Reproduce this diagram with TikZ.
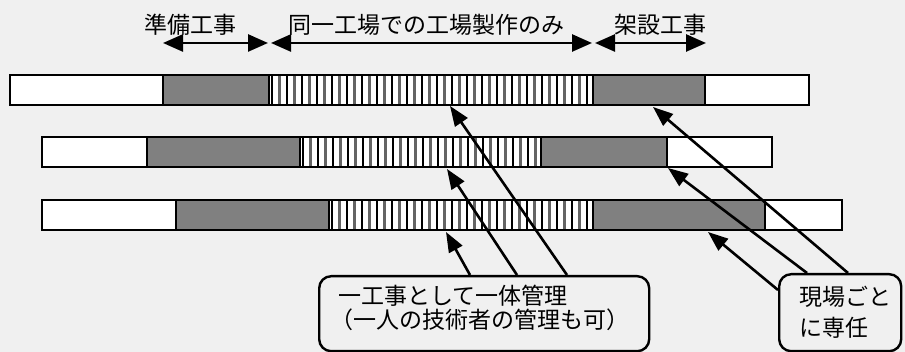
\documentclass[tikz,border=0pt]{standalone}
\usepackage{fontspec}
\newfontfamily\jp{Noto Sans CJK JP}
\usetikzlibrary{arrows.meta}
\definecolor{bargray}{RGB}{128,128,128}
\definecolor{hatchgray}{RGB}{100,100,100}
\definecolor{bgcol}{RGB}{240,240,240}
\begin{document}
\begin{tikzpicture}[x=1pt,y=-1pt,
  seg/.style={draw=black, line width=2.6pt, minimum height=30pt, inner sep=0pt, outer sep=0pt, anchor=north west},
  gseg/.style={seg, fill=bargray},
  wseg/.style={seg, fill=white},
  hseg/.style={seg, fill=white, path picture={
     \foreach \i in {0,...,22}{
       \draw[black, line width=1.8pt] ([xshift=15*\i pt+3pt]path picture bounding box.north west) -- ([xshift=15*\i pt+3pt]path picture bounding box.south west);
       \draw[hatchgray, line width=2.2pt] ([xshift=15*\i pt+10.5pt]path picture bounding box.north west) -- ([xshift=15*\i pt+10.5pt]path picture bounding box.south west);
     }}},
  lbl/.style={font=\jp\fontsize{23}{26}\selectfont, inner sep=0pt},
  dim/.style={line width=2.6pt, {Triangle[length=20pt,width=17pt]}-{Triangle[length=20pt,width=17pt]}},
  ptr/.style={line width=2.6pt, -{Triangle[length=20pt,width=15pt]}},
  callout/.style={draw, line width=2.4pt, rounded corners=12pt, inner sep=0pt, anchor=north west}]
\fill[bgcol] (0,0) rectangle (905,352);
\useasboundingbox (0,0) rectangle (905,352);

% top labels and span arrows
\node[lbl] (l1) at (190,25) {準備工事};
\node[lbl] (l2) at (426,25) {同一工場での工場製作のみ};
\node[lbl] (l3) at (660,25) {架設工事};
\coordinate (a0) at (163,43);
\coordinate (a1) at (268,43);
\coordinate (a2) at (271,43);
\coordinate (a3) at (592,43);
\coordinate (a4) at (595,43);
\coordinate (a5) at (706,43);
\draw[dim] (a0) -- (a1);
\draw[dim] (a2) -- (a3);
\draw[dim] (a4) -- (a5);

% bar 1
\node[wseg, minimum width=153pt] (b1a) at (10,75) {};
\node[gseg, minimum width=106pt] (b1b) at (163,75) {};
\node[hseg, minimum width=324pt] (b1c) at (269,75) {};
\node[gseg, minimum width=112pt] (b1d) at (593,75) {};
\node[wseg, minimum width=104pt] (b1e) at (705,75) {};
% bar 2
\node[wseg, minimum width=105pt] (b2a) at (42,137) {};
\node[gseg, minimum width=153pt] (b2b) at (147,137) {};
\node[hseg, minimum width=241pt] (b2c) at (300,137) {};
\node[gseg, minimum width=126pt] (b2d) at (541,137) {};
\node[wseg, minimum width=105pt] (b2e) at (667,137) {};
% bar 3
\node[wseg, minimum width=134pt] (b3a) at (42,200) {};
\node[gseg, minimum width=153pt] (b3b) at (176,200) {};
\node[hseg, minimum width=264pt] (b3c) at (329,200) {};
\node[gseg, minimum width=172pt] (b3d) at (593,200) {};
\node[wseg, minimum width=77pt] (b3e) at (765,200) {};

% callout boxes
\node[callout, minimum width=330pt, minimum height=75pt] (c1) at (318,275) {};
\node[lbl, anchor=west] (c1t1) at (338,296) {一工事として一体管理};
\node[lbl, anchor=west] (c1t2) at (330,320) {（一人の技術者の管理も可）};
\node[callout, minimum width=122pt, minimum height=77pt] (c2) at (778,273) {};
\node[lbl, anchor=west] (c2t1) at (799,297) {現場ごと};
\node[lbl, anchor=west] (c2t2) at (799,328) {に専任};

% arrow targets
\coordinate (t1) at (450,106);
\coordinate (t2) at (447,169);
\coordinate (t3) at (446,232);
\coordinate (u1) at (653,107);
\coordinate (u2) at (668,168);
\coordinate (u3) at (708,232);

\draw[ptr] ([xshift=249pt]c1.north west) -- (t1);
\draw[ptr] ([xshift=199pt]c1.north west) -- (t2);
\draw[ptr] ([xshift=152pt]c1.north west) -- (t3);
\draw[ptr] ([xshift=70pt]c2.north west) -- (u1);
\draw[ptr] ([xshift=29pt]c2.north west) -- (u2);
\draw[ptr] ([yshift=-17pt]c2.north west) -- (u3);
\end{tikzpicture}
\end{document}
